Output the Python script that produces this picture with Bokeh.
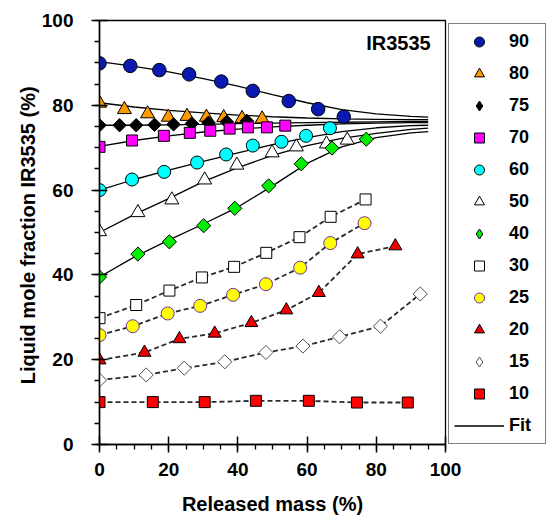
import numpy as np
from bokeh.plotting import figure
from bokeh.models import Legend, LegendItem, SingleIntervalTicker, Label
from bokeh.embed import file_html
from bokeh.resources import INLINE

# ---- data ----
x90 = [0, 8.9, 17.3, 25.9, 35.2, 44.3, 54.7, 63.2, 70.6]
y90 = [89.9, 89.3, 88.3, 87.3, 85.6, 83.4, 81.0, 79.1, 77.3]
x80 = [0, 7.2, 13.9, 19.9, 25.3, 30.9, 35.9, 41.2, 47.0]
y80 = [80.5, 79.0, 78.0, 77.2, 77.4, 77.2, 77.1, 76.9, 76.8]
x75 = [0, 5.8, 10.6, 15.9, 21.4, 26.7, 31.5, 36.8, 42.6]
y75 = [75.3, 75.3, 75.3, 75.4, 75.5, 75.7, 75.9, 76.1, 76.3]
x70 = [0, 9.4, 18.6, 26.1, 32.0, 37.6, 42.9, 48.4, 53.7]
y70 = [70.2, 71.7, 72.8, 73.5, 74.0, 74.5, 74.8, 74.8, 75.2]
x60 = [0, 9.4, 18.7, 28.2, 36.6, 44.3, 52.6, 59.7, 66.6]
y60 = [60.0, 62.5, 64.3, 66.5, 68.4, 70.5, 71.4, 72.8, 74.6]
x50 = [0, 11.1, 20.9, 30.4, 39.7, 49.9, 56.9, 65.6, 71.6]
y50 = [50.2, 54.7, 57.7, 62.4, 65.9, 68.8, 70.2, 70.9, 71.8]
x40 = [0, 11.1, 20.2, 30.1, 39.1, 48.9, 58.3, 67.2, 77.1]
y40 = [39.5, 44.9, 47.8, 51.6, 55.7, 61.0, 66.2, 69.9, 72.0]
x30 = [0, 10.6, 20.2, 29.6, 38.9, 48.2, 57.8, 66.8, 76.9]
y30 = [29.8, 32.9, 36.3, 39.4, 41.9, 45.2, 48.9, 53.7, 57.8]
x25 = [0, 9.6, 19.7, 29.1, 38.6, 48.1, 58.0, 66.7, 76.6]
y25 = [25.8, 27.9, 30.9, 32.7, 35.3, 37.8, 41.7, 47.5, 52.2]
x20 = [0, 13.0, 23.1, 33.3, 43.9, 54.0, 63.4, 74.6, 85.5]
y20 = [19.9, 21.7, 24.9, 26.2, 28.7, 31.7, 35.8, 44.9, 46.8]
x15 = [0, 13.5, 24.5, 36.2, 48.1, 58.8, 69.4, 81.2, 92.7]
y15 = [15.2, 16.4, 18.0, 19.5, 21.7, 23.2, 25.4, 27.9, 35.5]
x10 = [0, 15.4, 30.4, 45.2, 60.5, 74.4, 89.1]
y10 = [10.0, 10.0, 10.0, 10.3, 10.3, 9.9, 9.9]

# fitted curves
fit_x = [0, 10, 20, 30, 40, 50, 60, 70, 80, 90, 95]
fit90 = [90.3, 89.2, 87.9, 86.3, 84.5, 82.5, 80.6, 79.0, 78.0, 77.4, 77.2]
fit80 = [80.6, 79.6, 78.8, 78.2, 77.7, 77.3, 77.0, 76.8, 76.7, 76.6, 76.6]
fit75 = [75.3, 75.3, 75.4, 75.5, 75.7, 75.8, 75.9, 76.0, 76.1, 76.2, 76.2]
fit70 = [70.3, 71.7, 72.8, 73.7, 74.4, 74.9, 75.3, 75.6, 75.8, 75.9, 75.9]
fit60 = [60.0, 62.5, 64.7, 66.8, 68.8, 70.7, 72.4, 73.8, 74.7, 75.2, 75.3]
fit50 = [50.0, 54.2, 58.0, 62.0, 65.3, 68.2, 70.5, 72.2, 73.4, 74.3, 74.6]
fit40 = [39.5, 44.2, 48.2, 52.0, 56.0, 61.0, 66.3, 70.2, 72.4, 73.5, 73.8]

labels = ["90", "80", "75", "70", "60", "50", "40", "30", "25", "20", "15", "10"]
xs = [x90, x80, x75, x70, x60, x50, x40, x30, x25, x20, x15, x10]
ys = [y90, y80, y75, y70, y60, y50, y40, y30, y25, y20, y15, y10]
fits = [fit90, fit80, fit75, fit70, fit60, fit50, fit40]
dashed = ["30", "25", "20", "15", "10"]

# ---- styles ----
styles = {
    "90": dict(marker="circle", fill_color="#0A1AB0", line_color="#000000", size=13.5),
    "80": dict(marker="triangle", fill_color="#FF9900", line_color="#000000", size=14),
    "75": dict(marker="diamond", fill_color="#000000", line_color="#000000", size=9.5),
    "70": dict(marker="square", fill_color="#FF00FF", line_color="#000000", size=11),
    "60": dict(marker="circle", fill_color="#00FFFF", line_color="#000000", size=13),
    "50": dict(marker="triangle", fill_color="#FFFFFF", line_color="#000000", size=14),
    "40": dict(marker="diamond", fill_color="#00EE00", line_color="#000000", size=10),
    "30": dict(marker="square", fill_color="#FFFFFF", line_color="#000000", size=11),
    "25": dict(marker="circle", fill_color="#FFFF00", line_color="#7030A0", size=13),
    "20": dict(marker="triangle", fill_color="#EE0000", line_color="#000000", size=13),
    "15": dict(marker="diamond", fill_color="#FFFFFF", line_color="#505050", size=10),
    "10": dict(marker="square", fill_color="#FF0000", line_color="#000000", size=11),
}

FONT = "Liberation Sans"

p = figure(frame_width=346, frame_height=424, x_range=(0, 100), y_range=(0, 100),
           output_backend="svg", toolbar_location=None,
           min_border_left=99, min_border_right=0, min_border_top=20, min_border_bottom=75)
p.grid.visible = False
p.outline_line_color = "black"
p.outline_line_width = 1.3
p.background_fill_color = "white"
p.border_fill_color = "white"

for ax in (p.xaxis[0], p.yaxis[0]):
    ax.ticker = SingleIntervalTicker(interval=20, num_minor_ticks=4)
    ax.axis_line_color = "black"
    ax.axis_line_width = 1.5
    ax.major_tick_line_color = "black"
    ax.major_tick_line_width = 1.5
    ax.minor_tick_line_color = "black"
    ax.minor_tick_line_width = 1.3
    ax.major_tick_in = 8
    ax.major_tick_out = 8
    ax.minor_tick_in = 0
    ax.minor_tick_out = 5
    ax.major_label_text_font = FONT
    ax.major_label_text_font_style = "bold"
    ax.major_label_text_font_size = "19px"
    ax.major_label_text_color = "black"
    ax.axis_label_text_font = FONT
    ax.axis_label_text_font_style = "bold"
    ax.axis_label_text_font_size = "20px"
    ax.axis_label_text_color = "black"

p.xaxis.axis_label = "Released mass (%)"
p.yaxis.axis_label = "Liquid mole fraction IR3535  (%)"
p.xaxis.major_label_standoff = 10
p.yaxis.major_label_standoff = 18
p.xaxis.axis_label_standoff = 14
p.yaxis.axis_label_standoff = 0

# fit curves
fit_renderers = []
for f in fits:
    r = p.line(fit_x, f, line_color="black", line_width=1.3)
    fit_renderers.append(r)

# dashed connecting lines
for lab, x, y in zip(labels, xs, ys):
    if lab in dashed:
        p.line(x, y, line_color="#2A2A2A", line_width=1.8, line_dash="5 3")

# markers
marker_renderers = {}
for lab, x, y in zip(labels, xs, ys):
    st = styles[lab]
    if st["marker"] == "diamond":
        # narrow diamond used for the legend glyph, hidden under the square diamond
        r = p.scatter(x, y, marker="diamond", size=st["size"],
                      fill_color=st["fill_color"], line_color=st["line_color"], line_width=1)
        p.scatter(x, y, marker="square", angle=np.pi / 4, size=st["size"],
                  fill_color=st["fill_color"], line_color=st["line_color"], line_width=1)
    else:
        r = p.scatter(x, y, marker=st["marker"], size=st["size"],
                      fill_color=st["fill_color"], line_color=st["line_color"], line_width=1)
    marker_renderers[lab] = r

items = [LegendItem(label=lab, renderers=[marker_renderers[lab]]) for lab in labels]
items.append(LegendItem(label="Fit", renderers=[fit_renderers[0]]))

legend = Legend(items=items, location="top_left", orientation="vertical",
                glyph_width=50, glyph_height=25, spacing=7, padding=5, margin=3,
                label_standoff=5, label_width=31,
                label_text_font=FONT, label_text_font_style="bold",
                label_text_font_size="18px", label_text_color="black",
                border_line_color="black", border_line_width=1.2,
                background_fill_color="white", background_fill_alpha=1)
p.add_layout(legend, "right")

p.add_layout(Label(x=95.7, y=94.6, text="IR3535", text_align="right", text_baseline="middle",
                   text_font=FONT, text_font_style="bold", text_font_size="20px",
                   text_color="black"))

open("out.html", "w").write(file_html(p, INLINE))
